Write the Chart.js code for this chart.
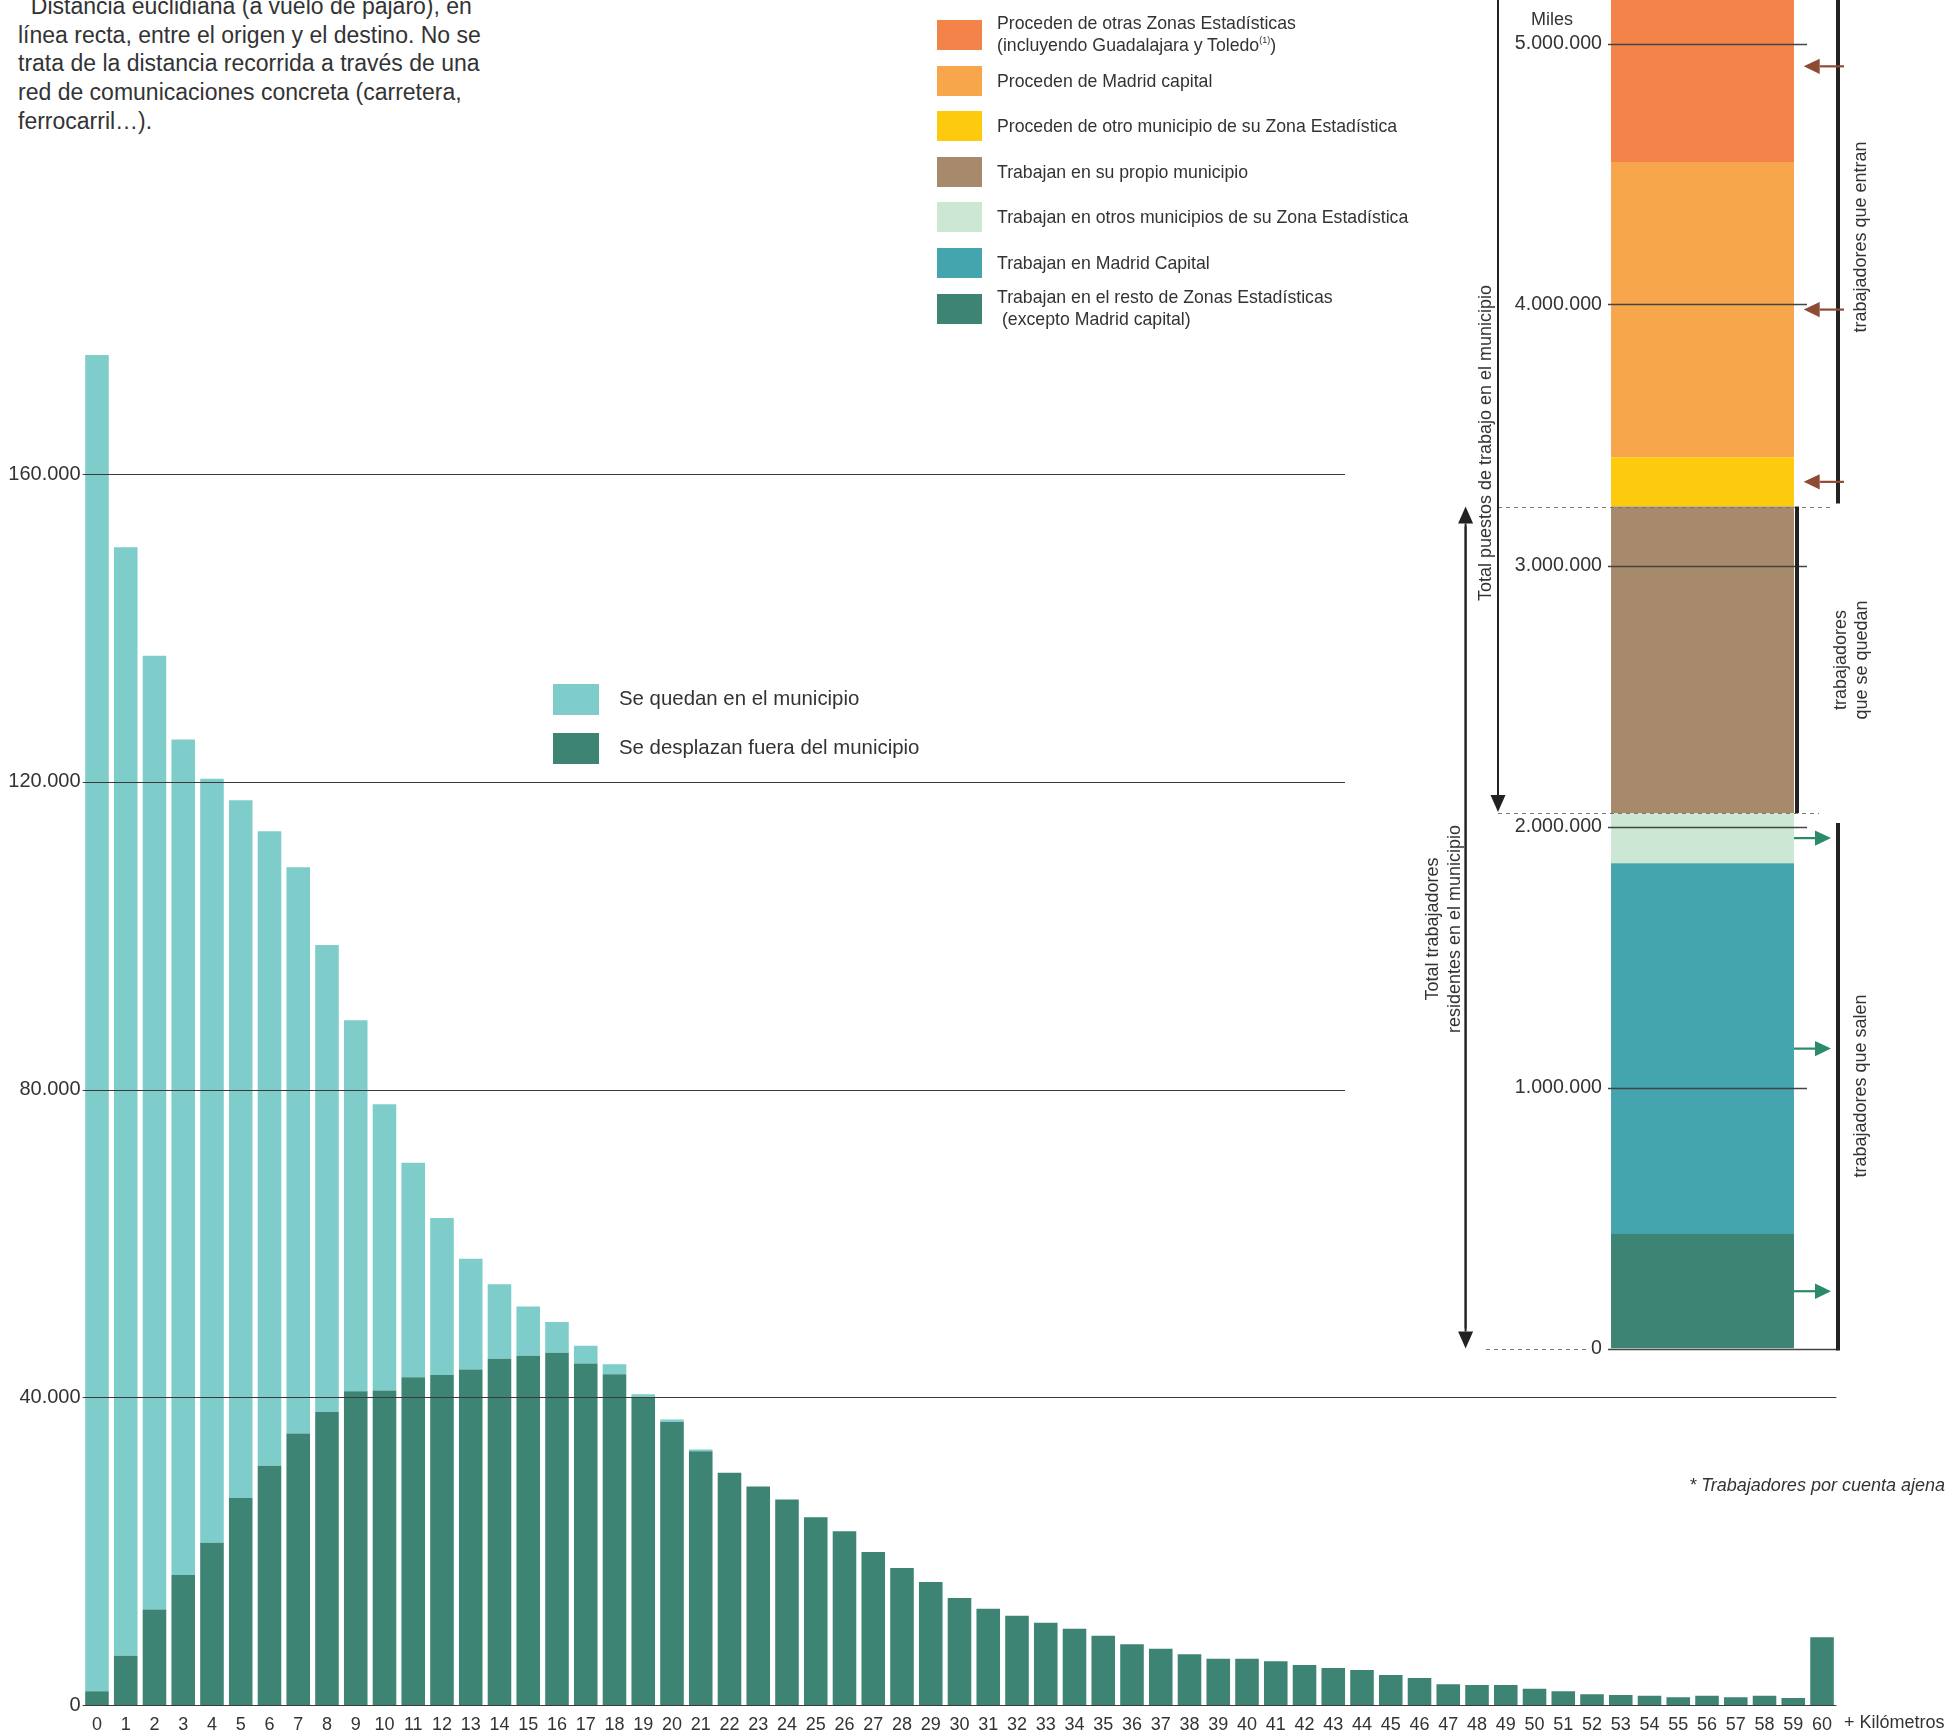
<!DOCTYPE html>
<html lang="es">
<head>
<meta charset="utf-8">
<title>Distancia al lugar de trabajo</title>
<script src="https://cdn.jsdelivr.net/npm/chart.js@4.4.1/dist/chart.umd.min.js"></script>
<style>
  html, body { margin: 0; padding: 0; background: #fff; }
  body { width: 1947px; height: 1734px; position: relative; overflow: hidden;
         font-family: 'Liberation Sans', Arial, sans-serif; color: #333; }
  #mainChart { position: absolute; left: 0; top: 0; }
  #rightChart { position: absolute; left: 1340px; top: -120px; }
  .nota { position: absolute; left: 18px; top: -8px; font-size: 23px; line-height: 28.7px; white-space: nowrap; }
  .leyenda-top { position: absolute; left: 937px; top: 20px; z-index: 2; }
  .leyenda-top .fila { display: flex; align-items: center; height: 30px; margin-bottom: 15.6px; }
  .leyenda-top .caja { width: 45px; height: 30px; flex: none; }
  .leyenda-top .txt { margin-left: 15px; font-size: 17.7px; line-height: 22px; white-space: nowrap; margin-top: -2px; }
  .leyenda-top .txt.una { margin-top: 0; }
  .leyenda-top sup { font-size: 9px; line-height: 0; vertical-align: 8px; }
  .leyenda-mid { position: absolute; left: 553px; top: 684px; }
  .leyenda-mid .fila { display: flex; align-items: center; height: 31px; margin-bottom: 18px; }
  .leyenda-mid .caja { width: 46px; height: 31px; flex: none; }
  .leyenda-mid .txt { margin-left: 20px; font-size: 20.4px; white-space: nowrap; margin-top: -2px; }
  .pie { position: absolute; right: 2px; top: 1475px; font-size: 18px; font-style: italic; white-space: nowrap; }
</style>
</head>
<body>

<div class="nota">&nbsp;&nbsp;Distancia euclidiana (a vuelo de pájaro), en<br>línea recta, entre el origen y el destino. No se<br>trata de la distancia recorrida a través de una<br>red de comunicaciones concreta (carretera,<br>ferrocarril…).</div>

<canvas id="mainChart" width="1947" height="1734"></canvas>
<canvas id="rightChart" width="607" height="1500"></canvas>

<div class="leyenda-top">
  <div class="fila"><div class="caja" style="background:#F4834A"></div><div class="txt">Proceden de otras Zonas Estadísticas<br>(incluyendo Guadalajara y Toledo<sup>(1)</sup>)</div></div>
  <div class="fila"><div class="caja" style="background:#F8A64C"></div><div class="txt una">Proceden de Madrid capital</div></div>
  <div class="fila"><div class="caja" style="background:#FDCA0E"></div><div class="txt una">Proceden de otro municipio de su Zona Estadística</div></div>
  <div class="fila"><div class="caja" style="background:#A78A6B"></div><div class="txt una">Trabajan en su propio municipio</div></div>
  <div class="fila"><div class="caja" style="background:#CDE7D5"></div><div class="txt una">Trabajan en otros municipios de su Zona Estadística</div></div>
  <div class="fila"><div class="caja" style="background:#45A5AE"></div><div class="txt una">Trabajan en Madrid Capital</div></div>
  <div class="fila"><div class="caja" style="background:#3D8475"></div><div class="txt">Trabajan en el resto de Zonas Estadísticas<br>&nbsp;(excepto Madrid capital)</div></div>
</div>

<div class="leyenda-mid">
  <div class="fila"><div class="caja" style="background:#7ECDCB"></div><div class="txt">Se quedan en el municipio</div></div>
  <div class="fila"><div class="caja" style="background:#3D8475"></div><div class="txt">Se desplazan fuera del municipio</div></div>
</div>

<div class="pie">* Trabajadores por cuenta ajena</div>

<script>
// ---- datos: trabajadores segun distancia (km) ----
const distancias = Array.from({ length: 61 }, (_, i) => String(i));
const seDesplazan = [
  1800, 6400, 12400, 16900, 21100, 26900, 31100, 35300, 38100, 40800,
  40900, 42600, 42900, 43600, 45000, 45400, 45800, 44400, 43000, 40000,
  36800, 33000, 30200, 28400, 26700, 24400, 22600, 19900, 17800, 16000,
  13900, 12500, 11600, 10700, 9900, 9000, 7900, 7300, 6600, 6000,
  6000, 5700, 5200, 4800, 4550, 3900, 3500, 2700, 2600, 2600,
  2100, 1800, 1400, 1300, 1200, 1000, 1200, 1000, 1200, 900,
  8800
];
const seQuedan = [
  173700, 144100, 124000, 108600, 99300, 90700, 82500, 73600, 60700, 48200,
  37200, 27900, 20400, 14400, 9700, 6400, 4000, 2300, 1300, 400,
  300, 200, 0, 0, 0, 0, 0, 0, 0, 0,
  0, 0, 0, 0, 0, 0, 0, 0, 0, 0,
  0, 0, 0, 0, 0, 0, 0, 0, 0, 0,
  0, 0, 0, 0, 0, 0, 0, 0, 0, 0,
  0
];
const ticksPrincipal = [0, 40000, 80000, 120000, 160000];

// ---- datos: barra apilada de la derecha (de abajo a arriba) ----
const segmentos = [
  'Trabajan en el resto de Zonas Estadísticas (excepto Madrid capital)',
  'Trabajan en Madrid Capital',
  'Trabajan en otros municipios de su Zona Estadística',
  'Trabajan en su propio municipio',
  'Proceden de otro municipio de su Zona Estadística',
  'Proceden de Madrid capital',
  'Proceden de otras Zonas Estadísticas (incluyendo Guadalajara y Toledo)'
];
const valoresSegmentos = [439000, 1420000, 193000, 1174000, 189000, 1131000, 733000];
const coloresSegmentos = ['#3D8475', '#45A5AE', '#CDE7D5', '#A78A6B', '#FDCA0E', '#F8A64C', '#F4834A'];
const ticksDerecha = [0, 1000000, 2000000, 3000000, 4000000, 5000000];

const FONT = "'Liberation Sans', Arial, sans-serif";
const TXT = '#333';

function miles(v) {
  return String(v).replace(/\B(?=(\d{3})+(?!\d))/g, '.');
}

// lineas horizontales del grafico principal (las altas se cortan antes de la barra derecha)
const lineasPrincipal = {
  id: 'lineasPrincipal',
  afterDatasetsDraw(chart) {
    const { ctx, chartArea, scales: { x, y } } = chart;
    ctx.save();
    ctx.strokeStyle = '#3a3a3a';
    ctx.lineWidth = 1.2;
    ticksPrincipal.forEach(v => {
      const py = Math.round(y.getPixelForValue(v)) + 0.5;
      const fin = v > 40000 ? 1345 : chartArea.right;
      ctx.beginPath();
      ctx.moveTo(chartArea.left, py);
      ctx.lineTo(fin, py);
      ctx.stroke();
    });
    // etiqueta final del eje
    ctx.fillStyle = TXT;
    ctx.font = '18px ' + FONT;
    ctx.textAlign = 'left';
    ctx.textBaseline = 'middle';
    ctx.fillText('+ Kilómetros', x.getPixelForValue(60) + 22, chartArea.bottom + 18.5);
    ctx.restore();
  }
};

new Chart(document.getElementById('mainChart'), {
  type: 'bar',
  data: {
    labels: distancias,
    datasets: [
      { label: 'Se desplazan fuera del municipio', data: seDesplazan, backgroundColor: '#3D8475' },
      { label: 'Se quedan en el municipio', data: seQuedan, backgroundColor: '#7ECDCB' }
    ]
  },
  options: {
    responsive: false,
    animation: false,
    devicePixelRatio: 1,
    layout: { padding: { top: 166.5, right: 110.6, bottom: 0, left: 0 } },
    datasets: { bar: { barPercentage: 0.82, categoryPercentage: 1, borderWidth: 0 } },
    plugins: { legend: { display: false }, tooltip: { enabled: false } },
    scales: {
      x: {
        stacked: true,
        grid: { display: false, drawTicks: false },
        border: { display: false },
        ticks: { color: TXT, font: { family: FONT, size: 18 }, padding: 9, maxRotation: 0, autoSkip: false },
        afterFit(s) { s.height = 29; }
      },
      y: {
        stacked: true,
        min: 0,
        max: 200000,
        afterBuildTicks(s) { s.ticks = ticksPrincipal.map(v => ({ value: v })); },
        grid: { display: false, drawTicks: false },
        border: { display: false },
        ticks: { color: TXT, font: { family: FONT, size: 20 }, padding: 2, callback: v => miles(v) },
        afterFit(s) { s.width = 82.6; }
      }
    }
  },
  plugins: [lineasPrincipal]
});

// ---- anotaciones de la barra derecha ----
function flecha(ctx, x1, y1, x2, y2, largo, ancho) {
  const ang = Math.atan2(y2 - y1, x2 - x1);
  const bx = x2 - Math.cos(ang) * largo, by = y2 - Math.sin(ang) * largo;
  ctx.beginPath();
  ctx.moveTo(x1, y1);
  ctx.lineTo(bx, by);
  ctx.stroke();
  ctx.beginPath();
  ctx.moveTo(x2, y2);
  ctx.lineTo(bx - Math.sin(ang) * ancho, by + Math.cos(ang) * ancho);
  ctx.lineTo(bx + Math.sin(ang) * ancho, by - Math.cos(ang) * ancho);
  ctx.closePath();
  ctx.fill();
}

function textoVertical(ctx, txt, x, y) {
  ctx.save();
  ctx.translate(x, y);
  ctx.rotate(-Math.PI / 2);
  ctx.fillText(txt, 0, 0);
  ctx.restore();
}

const anotacionesDerecha = {
  id: 'anotacionesDerecha',
  afterDatasetsDraw(chart) {
    const { ctx, chartArea, scales: { y } } = chart;
    const acum = [0];
    valoresSegmentos.forEach((v, i) => acum.push(acum[i] + v));
    const py = v => y.getPixelForValue(v);
    const R = chartArea.right;
    ctx.save();

    // lineas de escala sobre la barra
    ctx.strokeStyle = '#444';
    ctx.lineWidth = 1.3;
    ticksDerecha.forEach(v => {
      const yy = Math.round(py(v)) + 0.5;
      ctx.beginPath();
      ctx.moveTo(chartArea.left, yy);
      ctx.lineTo(v === 0 ? 498 : 467, yy);
      ctx.stroke();
    });

    // lineas discontinuas
    ctx.strokeStyle = '#777';
    ctx.lineWidth = 1;
    ctx.setLineDash([4, 4]);
    [[0, 146, 250], [acum[4], 158, 490], [acum[3], 158, 479]].forEach(([v, a, b]) => {
      const yy = Math.round(py(v)) + 0.5;
      ctx.beginPath();
      ctx.moveTo(a, yy);
      ctx.lineTo(b, yy);
      ctx.stroke();
    });
    ctx.setLineDash([]);

    // corchetes
    ctx.strokeStyle = '#222';
    ctx.lineWidth = 4;
    [[498, 0, py(acum[4]) - 3], [R, py(acum[4]), py(acum[3])], [498, py(acum[3]) + 10, py(0) + 2]].forEach(([x, a, b]) => {
      ctx.beginPath();
      ctx.moveTo(x, a);
      ctx.lineTo(x, b);
      ctx.stroke();
    });

    // flechas verticales de totales
    ctx.strokeStyle = '#222';
    ctx.fillStyle = '#222';
    ctx.lineWidth = 2;
    flecha(ctx, 158, 0, 158, py(acum[3]) - 1, 17, 7.5);
    flecha(ctx, 125.6, py(0) - 20, 125.6, py(acum[4]), 17, 7.5);
    flecha(ctx, 125.6, py(acum[4]) + 20, 125.6, py(0), 17, 7.5);

    // flechas que entran (marron) y que salen (verde)
    ctx.lineWidth = 2.2;
    ctx.strokeStyle = '#8E4B33';
    ctx.fillStyle = '#8E4B33';
    [4, 5, 6].forEach(i => {
      const yy = py((acum[i] + acum[i + 1]) / 2);
      flecha(ctx, 504, yy, 463.7, yy, 16, 7.7);
    });
    ctx.strokeStyle = '#2A8A6A';
    ctx.fillStyle = '#2A8A6A';
    [0, 1, 2].forEach(i => {
      const yy = py((acum[i] + acum[i + 1]) / 2);
      flecha(ctx, 454, yy, 491, yy, 16, 7.7);
    });

    // textos
    ctx.fillStyle = TXT;
    ctx.font = '18px ' + FONT;
    ctx.textAlign = 'center';
    ctx.textBaseline = 'middle';
    ctx.fillText('Miles', 212, py(5000000) - 23);
    textoVertical(ctx, 'Total puestos de trabajo en el municipio', 146, 563);
    textoVertical(ctx, 'Total trabajadores', 93, 1049);
    textoVertical(ctx, 'residentes en el municipio', 115, 1049);
    textoVertical(ctx, 'trabajadores que entran', 521, 357);
    textoVertical(ctx, 'trabajadores', 501, 780);
    textoVertical(ctx, 'que se quedan', 522, 780);
    textoVertical(ctx, 'trabajadores que salen', 521, 1206);
    ctx.restore();
  }
};

new Chart(document.getElementById('rightChart'), {
  type: 'bar',
  data: {
    labels: ['Total'],
    datasets: segmentos.map((s, i) => ({
      label: s,
      data: [valoresSegmentos[i]],
      backgroundColor: coloresSegmentos[i],
      borderWidth: 0,
      barPercentage: 0.968,
      categoryPercentage: 1
    }))
  },
  options: {
    responsive: false,
    animation: false,
    devicePixelRatio: 1,
    layout: { padding: { top: 33, right: 150, bottom: 31.5, left: 0 } },
    plugins: { legend: { display: false }, tooltip: { enabled: false } },
    scales: {
      x: { stacked: true, display: false },
      y: {
        stacked: true,
        min: 0,
        max: 5500000,
        afterBuildTicks(s) { s.ticks = ticksDerecha.map(v => ({ value: v })); },
        grid: { display: false, drawTicks: false },
        border: { display: false },
        ticks: { color: TXT, font: { family: FONT, size: 19.6 }, padding: 6, callback: v => miles(v) },
        afterFit(s) { s.width = 268; }
      }
    }
  },
  plugins: [anotacionesDerecha]
});
</script>
</body>
</html>
